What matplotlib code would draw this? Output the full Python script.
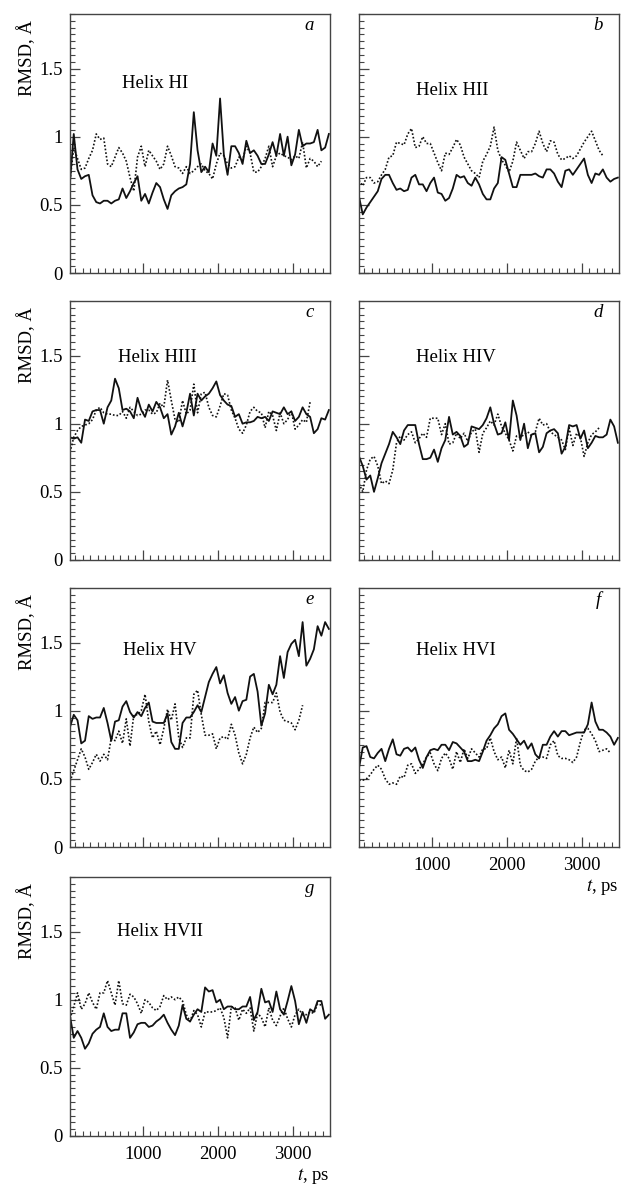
import matplotlib
matplotlib.use("Agg")
import matplotlib.pyplot as plt
from matplotlib.ticker import MultipleLocator, FixedLocator

plt.rcParams['font.family'] = ['Liberation Serif', 'DejaVu Serif']
plt.rcParams['mathtext.fontset'] = 'stix'

# sampling times, ps
t = [30, 80, 130, 180, 230, 280, 330, 380, 430, 480, 530, 580, 630, 680, 730,
     780, 830, 880, 930, 980, 1030, 1080, 1130, 1180, 1230, 1280, 1330, 1380,
     1430, 1480, 1530, 1580, 1630, 1680, 1730, 1780, 1830, 1880, 1930, 1980,
     2030, 2080, 2130, 2180, 2230, 2280, 2330, 2380, 2430, 2480, 2530, 2580,
     2630, 2680, 2730, 2780, 2830, 2880, 2930, 2980, 3030, 3080, 3130, 3180,
     3230, 3280, 3330, 3380, 3430, 3480]

# RMSD, A  (solid / dotted)
a_solid = [0.67, 1.02, 0.76, 0.69, 0.71, 0.72, 0.57, 0.52, 0.51, 0.53, 0.53, 0.51,
           0.53, 0.54, 0.62, 0.55, 0.60, 0.66, 0.71, 0.53, 0.58, 0.51, 0.59, 0.66,
           0.63, 0.54, 0.47, 0.57, 0.60, 0.62, 0.63, 0.65, 0.80, 1.18, 0.90, 0.74,
           0.78, 0.74, 0.95, 0.86, 1.28, 0.87, 0.72, 0.93, 0.93, 0.88, 0.80, 0.97,
           0.88, 0.90, 0.86, 0.80, 0.80, 0.87, 0.96, 0.86, 1.02, 0.86, 1.00, 0.79,
           0.87, 1.05, 0.93, 0.95, 0.95, 0.96, 1.05, 0.90, 0.92, 1.02]
a_dot = [0.68, 0.92, 0.84, 0.76, 0.77, 0.84, 0.90, 1.02, 0.98, 0.99, 0.80, 0.78,
         0.85, 0.92, 0.88, 0.82, 0.70, 0.60, 0.85, 0.93, 0.78, 0.90, 0.86, 0.82,
         0.76, 0.80, 0.93, 0.86, 0.78, 0.77, 0.73, 0.78, 0.73, 0.75, 0.78, 0.80,
         0.75, 0.73, 0.69, 0.80, 0.88, 0.86, 0.80, 0.77, 0.78, 0.85, 0.83, 0.93,
         0.88, 0.74, 0.74, 0.78, 0.84, 0.93, 0.78, 0.86, 0.88, 0.86, 0.85, 0.83,
         0.86, 0.84, 0.96, 0.77, 0.84, 0.82, 0.78, 0.82]

b_solid = [0.56, 0.43, 0.48, 0.52, 0.56, 0.60, 0.69, 0.72, 0.72, 0.66, 0.61, 0.62,
           0.60, 0.61, 0.70, 0.72, 0.65, 0.65, 0.60, 0.66, 0.70, 0.59, 0.58, 0.53,
           0.55, 0.62, 0.72, 0.70, 0.71, 0.66, 0.64, 0.70, 0.65, 0.58, 0.54, 0.54,
           0.62, 0.66, 0.85, 0.83, 0.73, 0.63, 0.63, 0.72, 0.72, 0.72, 0.72, 0.73,
           0.71, 0.70, 0.76, 0.76, 0.73, 0.67, 0.63, 0.75, 0.76, 0.72, 0.76, 0.80,
           0.84, 0.72, 0.66, 0.73, 0.72, 0.76, 0.70, 0.67, 0.69, 0.70]
b_dot = [0.68, 0.64, 0.70, 0.70, 0.66, 0.67, 0.72, 0.76, 0.85, 0.86, 0.96, 0.95,
         0.94, 1.02, 1.06, 0.92, 0.93, 1.00, 0.95, 0.95, 0.88, 0.81, 0.75, 0.88,
         0.87, 0.92, 0.98, 0.94, 0.85, 0.80, 0.75, 0.73, 0.70, 0.82, 0.87, 0.93,
         1.07, 0.90, 0.83, 0.79, 0.74, 0.82, 0.96, 0.90, 0.84, 0.89, 0.89, 0.95,
         1.04, 0.95, 0.89, 0.97, 0.96, 0.87, 0.83, 0.84, 0.86, 0.84, 0.86, 0.91,
         0.96, 1.00, 1.04, 0.97, 0.90, 0.86]

c_solid = [0.90, 0.89, 0.90, 0.86, 1.03, 1.02, 1.09, 1.10, 1.10, 1.00, 1.12, 1.17,
           1.33, 1.26, 1.10, 1.11, 1.09, 1.04, 1.19, 1.10, 1.05, 1.14, 1.09, 1.16,
           1.12, 1.04, 1.07, 0.92, 0.98, 1.08, 0.98, 1.08, 1.22, 1.06, 1.22, 1.17,
           1.20, 1.22, 1.26, 1.31, 1.21, 1.17, 1.14, 1.13, 1.05, 1.07, 1.00, 1.01,
           1.01, 1.02, 1.05, 1.04, 1.05, 1.02, 1.09, 1.08, 1.07, 1.12, 1.07, 1.09,
           1.02, 1.05, 1.12, 1.07, 1.05, 0.93, 0.96, 1.04, 1.03, 1.10]
c_dot = [0.79, 0.90, 0.95, 0.98, 0.99, 1.00, 1.03, 1.10, 1.12, 1.08, 1.07, 1.07,
         1.06, 1.06, 1.09, 1.04, 1.12, 1.09, 1.06, 1.07, 1.10, 1.10, 1.07, 1.08,
         1.15, 1.12, 1.32, 1.17, 1.03, 1.01, 1.17, 1.07, 1.10, 1.29, 1.08, 1.22,
         1.23, 1.12, 1.06, 1.05, 1.13, 1.22, 1.21, 1.10, 1.04, 0.96, 0.93, 0.99,
         1.09, 1.12, 1.09, 1.08, 0.97, 1.09, 1.06, 0.95, 1.08, 1.00, 1.03, 1.09,
         0.96, 0.99, 1.03, 1.01, 1.16]

d_solid = [0.76, 0.69, 0.59, 0.62, 0.50, 0.60, 0.71, 0.78, 0.85, 0.94, 0.90, 0.85,
           0.95, 0.99, 0.99, 0.99, 0.85, 0.74, 0.74, 0.75, 0.81, 0.72, 0.82, 0.88,
           1.05, 0.92, 0.94, 0.91, 0.83, 0.85, 0.98, 0.97, 0.96, 0.99, 1.04, 1.12,
           1.00, 0.92, 0.93, 1.01, 0.88, 1.17, 1.06, 0.88, 1.00, 0.82, 0.92, 0.93,
           0.79, 0.83, 0.93, 0.95, 0.96, 0.93, 0.78, 0.83, 0.99, 0.98, 0.99, 0.89,
           0.95, 0.82, 0.86, 0.91, 0.90, 0.90, 0.92, 1.03, 0.98, 0.86]
d_dot = [0.56, 0.50, 0.66, 0.74, 0.76, 0.69, 0.56, 0.58, 0.56, 0.66, 0.86, 0.91,
         0.88, 0.92, 0.94, 0.86, 0.89, 0.93, 0.90, 1.04, 1.04, 1.04, 0.92, 1.00,
         0.85, 0.86, 0.93, 0.89, 0.93, 0.87, 0.94, 0.96, 0.79, 0.93, 0.97, 1.02,
         0.99, 1.07, 0.98, 0.93, 0.88, 0.80, 0.91, 0.90, 0.92, 0.94, 0.91, 0.94,
         1.04, 0.99, 1.00, 0.94, 0.92, 0.90, 0.88, 0.81, 0.97, 0.84, 0.93, 0.90,
         0.76, 0.86, 0.92, 0.94, 0.97]

e_solid = [0.88, 0.97, 0.93, 0.76, 0.78, 0.96, 0.94, 0.95, 0.95, 1.02, 0.91, 0.78,
           0.92, 0.93, 1.03, 1.07, 0.99, 0.95, 0.99, 0.96, 1.02, 1.06, 0.92, 0.91,
           0.91, 0.91, 0.98, 0.77, 0.72, 0.72, 0.91, 0.95, 0.95, 0.99, 1.04, 0.99,
           1.10, 1.21, 1.27, 1.32, 1.20, 1.26, 1.13, 1.05, 1.10, 1.00, 1.07, 1.08,
           1.25, 1.27, 1.14, 0.89, 0.98, 1.19, 1.12, 1.19, 1.40, 1.24, 1.43, 1.49,
           1.52, 1.40, 1.65, 1.33, 1.38, 1.45, 1.62, 1.55, 1.65, 1.60]
e_dot = [0.48, 0.56, 0.64, 0.72, 0.66, 0.57, 0.62, 0.68, 0.63, 0.68, 0.64, 0.80,
         0.78, 0.85, 0.76, 0.94, 0.74, 0.97, 0.97, 1.00, 1.12, 0.92, 0.80, 0.85,
         0.75, 0.87, 1.01, 0.93, 1.05, 0.80, 0.73, 0.80, 0.80, 1.12, 1.15, 0.97,
         0.82, 0.82, 0.83, 0.72, 0.80, 0.81, 0.79, 0.90, 0.82, 0.69, 0.61, 0.68,
         0.80, 0.88, 0.84, 0.87, 1.06, 1.06, 1.06, 1.13, 0.99, 0.93, 0.92, 0.91,
         0.86, 0.93, 1.04]

f_solid = [0.58, 0.73, 0.74, 0.66, 0.65, 0.69, 0.72, 0.63, 0.72, 0.79, 0.68, 0.67,
           0.72, 0.73, 0.70, 0.73, 0.64, 0.58, 0.66, 0.71, 0.72, 0.71, 0.75, 0.75,
           0.71, 0.77, 0.76, 0.73, 0.70, 0.63, 0.63, 0.64, 0.63, 0.70, 0.78, 0.82,
           0.87, 0.90, 0.96, 0.98, 0.86, 0.83, 0.79, 0.75, 0.78, 0.72, 0.76, 0.68,
           0.65, 0.75, 0.75, 0.81, 0.85, 0.81, 0.85, 0.85, 0.82, 0.83, 0.84, 0.84,
           0.84, 0.90, 1.06, 0.92, 0.86, 0.86, 0.84, 0.81, 0.75, 0.80]
f_dot = [0.49, 0.49, 0.50, 0.53, 0.57, 0.60, 0.57, 0.50, 0.46, 0.47, 0.46, 0.52,
         0.51, 0.60, 0.61, 0.54, 0.57, 0.61, 0.66, 0.69, 0.61, 0.56, 0.65, 0.69,
         0.65, 0.57, 0.70, 0.62, 0.72, 0.65, 0.72, 0.69, 0.66, 0.72, 0.72, 0.80,
         0.70, 0.64, 0.66, 0.58, 0.71, 0.61, 0.80, 0.60, 0.56, 0.55, 0.57, 0.63,
         0.66, 0.66, 0.65, 0.75, 0.78, 0.67, 0.65, 0.65, 0.64, 0.62, 0.66, 0.77,
         0.86, 0.87, 0.83, 0.78, 0.70, 0.71, 0.72, 0.69]

g_solid = [0.88, 0.72, 0.77, 0.72, 0.64, 0.68, 0.75, 0.78, 0.80, 0.90, 0.80, 0.77,
           0.78, 0.78, 0.90, 0.90, 0.72, 0.76, 0.82, 0.83, 0.83, 0.80, 0.81, 0.84,
           0.86, 0.89, 0.83, 0.78, 0.74, 0.81, 0.96, 0.86, 0.84, 0.89, 0.93, 0.91,
           1.09, 1.06, 1.07, 0.98, 1.00, 0.93, 0.95, 0.95, 0.93, 0.93, 0.95, 0.95,
           1.02, 0.85, 0.91, 1.08, 0.98, 0.99, 0.91, 1.06, 0.93, 0.89, 0.99, 1.10,
           0.99, 0.82, 0.91, 0.83, 0.93, 0.91, 0.99, 0.99, 0.86, 0.89]
g_dot = [0.86, 0.95, 1.05, 0.93, 0.97, 1.05, 0.98, 0.93, 1.05, 1.05, 1.14, 1.05,
         0.96, 1.14, 0.97, 0.96, 1.04, 1.02, 0.97, 0.90, 1.00, 0.98, 0.94, 0.92,
         0.95, 1.03, 1.00, 1.02, 1.00, 1.02, 0.99, 0.89, 0.84, 0.92, 0.89, 0.80,
         0.91, 0.91, 0.91, 0.92, 0.94, 0.87, 0.72, 0.95, 0.94, 0.85, 0.93, 0.90,
         0.94, 0.77, 0.90, 0.87, 0.80, 0.94, 0.85, 0.81, 0.88, 0.94, 0.86, 0.80,
         0.89, 0.93, 0.89, 0.89, 0.91, 0.90, 0.97, 0.96]

letters = ['a', 'b', 'c', 'd', 'e', 'f', 'g']
names = ['Helix HI', 'Helix HII', 'Helix HIII', 'Helix HIV', 'Helix HV',
         'Helix HVI', 'Helix HVII']
solids = [a_solid, b_solid, c_solid, d_solid, e_solid, f_solid, g_solid]
dots = [a_dot, b_dot, c_dot, d_dot, e_dot, f_dot, g_dot]
name_pos = [(0.20, 0.73), (0.22, 0.705), (0.185, 0.78), (0.22, 0.78),
            (0.205, 0.76), (0.22, 0.76), (0.18, 0.79)]

W, H = 624, 1186
fig = plt.figure(figsize=(W / 100, H / 100), dpi=100)
lefts = [70, 359]
tops = [14, 301, 588, 877]
aw, ah = 260, 259

fs = 13.5
for i in range(7):
    row, col = divmod(i, 2)
    x0 = lefts[col]
    y0 = tops[row]
    ax = fig.add_axes([x0 / W, 1 - (y0 + ah) / H, aw / W, ah / H])
    ys = solids[i]
    yd = dots[i]
    ax.plot(t[:len(ys)], ys, color='#111111', lw=1.3, ls='-')
    ax.plot(t[:len(yd)], yd, color='#111111', lw=1.2, ls=(0, (1, 1.2)))
    ax.set_xlim(30, 3495)
    ax.set_ylim(0, 1.9)
    ax.xaxis.set_major_locator(FixedLocator([1000, 2000, 3000]))
    ax.xaxis.set_minor_locator(MultipleLocator(100))
    ax.yaxis.set_major_locator(FixedLocator([0, 0.5, 1, 1.5]))
    ax.yaxis.set_minor_locator(MultipleLocator(0.05))
    ax.tick_params(which='both', direction='in', top=False, right=False,
                   color='#444444', labelsize=fs)
    ax.tick_params(which='major', length=7, width=0.9)
    ax.tick_params(which='minor', length=3.5, width=0.8)
    ax.tick_params(axis='y', pad=5)
    ax.tick_params(axis='x', pad=7)
    for s in ax.spines.values():
        s.set_color('#444444')
        s.set_linewidth(1.0)
    if col == 0:
        ax.set_yticklabels(['0', '0.5', '1', '1.5'])
        ax.text(-0.165, 0.975, 'RMSD, Å', rotation=90, transform=ax.transAxes,
                ha='center', va='top', fontsize=fs)
    else:
        ax.set_yticklabels([])
    if letters[i] in ('f', 'g'):
        ax.set_xticklabels(['1000', '2000', '3000'])
        ax.text(1.0, -0.115, '$t$, ps', transform=ax.transAxes, ha='right',
                va='top', fontsize=fs)
    else:
        ax.set_xticklabels([])
    ax.text(0.92, 0.955, letters[i], transform=ax.transAxes, ha='center',
            va='center', fontsize=fs, style='italic')
    nx, ny = name_pos[i]
    ax.text(nx, ny, names[i], transform=ax.transAxes, ha='left', va='center',
            fontsize=fs)

fig.savefig('out.png', dpi=100)
